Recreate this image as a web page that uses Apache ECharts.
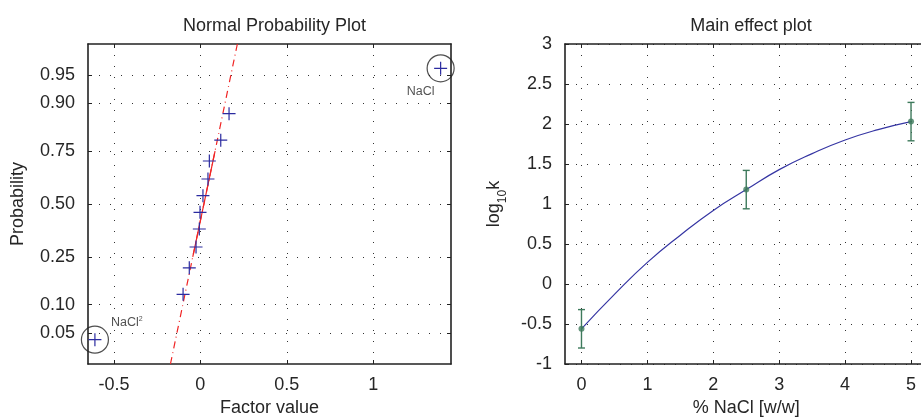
<!DOCTYPE html>
<html>
<head>
<meta charset="utf-8">
<script src="https://cdn.jsdelivr.net/npm/echarts@6/dist/echarts.min.js"></script>
<style>
html,body{margin:0;padding:0;background:#fff;}
#chart{width:921px;height:417px;}
</style>
</head>
<body>
<div id="chart"></div>
<script>
// ---------- data: normal probability plot ----------
const factorValues = [-0.61, -0.100, -0.064, -0.025, -0.006, -0.002, 0.015, 0.044, 0.052, 0.118, 0.166, 1.39];
const factorProbs  = [0.042, 0.125, 0.208, 0.292, 0.375, 0.458, 0.542, 0.625, 0.708, 0.792, 0.875, 0.958];
const flaggedIdx   = [0, 11];
const flaggedNames = ['NaCl2', 'NaCl'];
const refLineX     = [-0.173, -0.044, 0.085, 0.214];
const refLineProb  = [0.0208, 0.25, 0.75, 0.9792];
const probTicks    = [0.05, 0.10, 0.25, 0.50, 0.75, 0.90, 0.95];
const probLabels   = ['0.05', '0.10', '0.25', '0.50', '0.75', '0.90', '0.95'];
const probLimits   = [0.0208, 0.9792];
const factorTicks  = [-0.5, 0, 0.5, 1];

// ---------- data: main effect plot ----------
const effectX    = [0, 2.5, 5];
const effectMean = [-0.56, 1.18, 2.03];
const effectErr  = [0.24, 0.24, 0.24];
const curveX     = [0, 0.5, 1, 1.5, 2, 2.5, 3, 3.5, 4, 4.5, 5];
const curveY     = [-0.56, -0.13, 0.27, 0.61, 0.92, 1.18, 1.43, 1.63, 1.80, 1.93, 2.03];
const naclTicks  = [0, 1, 2, 3, 4, 5];

// inverse standard normal CDF (probability scale transform)
function norminv(p){
  const a=[-3.969683028665376e+01,2.209460984245205e+02,-2.759285104469687e+02,1.383577518672690e+02,-3.066479806614716e+01,2.506628277459239e+00];
  const b=[-5.447609879822406e+01,1.615858368580409e+02,-1.556989798598866e+02,6.680131188771972e+01,-1.328068155288572e+01];
  const c=[-7.784894002430293e-03,-3.223964580411365e-01,-2.400758277161838e+00,-2.549732539343734e+00,4.374664141464968e+00,2.938163982698783e+00];
  const d=[7.784695709041462e-03,3.224671290700398e-01,2.445134137142996e+00,3.754408661907416e+00];
  const pl=0.02425, ph=1-pl; let q,r;
  if(p<pl){q=Math.sqrt(-2*Math.log(p));return (((((c[0]*q+c[1])*q+c[2])*q+c[3])*q+c[4])*q+c[5])/((((d[0]*q+d[1])*q+d[2])*q+d[3])*q+1);}
  if(p<=ph){q=p-0.5;r=q*q;return (((((a[0]*r+a[1])*r+a[2])*r+a[3])*r+a[4])*r+a[5])*q/(((((b[0]*r+b[1])*r+b[2])*r+b[3])*r+b[4])*r+1);}
  q=Math.sqrt(-2*Math.log(1-p));return -(((((c[0]*q+c[1])*q+c[2])*q+c[3])*q+c[4])*q+c[5])/((((d[0]*q+d[1])*q+d[2])*q+d[3])*q+1);
}

const probTickZ = probTicks.map(norminv);
const zMin = norminv(probLimits[0]), zMax = norminv(probLimits[1]);
function probLabel(v){
  for (let i=0;i<probTickZ.length;i++) if (Math.abs(probTickZ[i]-v)<1e-6) return probLabels[i];
  return '';
}

const FONT = '"Liberation Sans", Arial, Helvetica, sans-serif';
const TXT = '#262626';
const AX = '#222';
const BLUE = '#2b2ba0';
const GREEN = '#3e7a5c';
const dotted = {show:true, lineStyle:{color:'#333', width:1, type:[1,10]}};

function baseAxis(extra){
  return Object.assign({
    type:'value',
    axisLine:{show:true, onZero:false, lineStyle:{color:AX, width:1.6}},
    axisTick:{show:true, inside:true, length:4, lineStyle:{color:AX}},
    axisLabel:{color:TXT, fontSize:18, fontFamily:FONT},
    nameTextStyle:{color:TXT, fontSize:18, fontFamily:FONT},
    splitLine:{show:false}
  }, extra);
}

const plusPath = 'path://M0,-1L0,1M-1,0L1,0';

const option = {
  animation:false,
  backgroundColor:'#fff',
  textStyle:{fontFamily:FONT},
  title:[
    {text:'Normal Probability Plot', left:269.5, top:12, textAlign:'center',
     textStyle:{fontSize:18, fontWeight:'normal', color:TXT, fontFamily:FONT}},
    {text:'Main effect plot', left:746, top:12, textAlign:'center',
     textStyle:{fontSize:18, fontWeight:'normal', color:TXT, fontFamily:FONT}}
  ],
  grid:[
    {left:88, top:44, width:363, height:320, outerBoundsMode:'none', containLabel:false},
    {left:565, top:44, width:362.5, height:320, outerBoundsMode:'none', containLabel:false}
  ],
  xAxis:[
    baseAxis({gridIndex:0, min:-0.65, max:1.45, position:'bottom',
      name:'Factor value', nameLocation:'middle', nameGap:34,
      axisTick:{show:true, inside:true, length:4, lineStyle:{color:AX}, customValues:factorTicks},
      axisLabel:{color:TXT, fontSize:18, fontFamily:FONT, margin:12, customValues:factorTicks},
      splitLine:dotted}),
    baseAxis({gridIndex:0, min:-0.65, max:1.45, position:'top',
      axisTick:{show:true, inside:true, length:4, lineStyle:{color:AX}, customValues:factorTicks},
      axisLabel:{show:false, customValues:factorTicks}}),
    baseAxis({gridIndex:1, min:-0.25, max:5.25, position:'bottom',
      name:'% NaCl [w/w]', nameLocation:'middle', nameGap:34,
      axisTick:{show:true, inside:true, length:4, lineStyle:{color:AX}, customValues:naclTicks},
      axisLabel:{color:TXT, fontSize:18, fontFamily:FONT, margin:12, customValues:naclTicks},
      splitLine:dotted}),
    baseAxis({gridIndex:1, min:-0.25, max:5.25, position:'top',
      axisTick:{show:true, inside:true, length:4, lineStyle:{color:AX}, customValues:naclTicks},
      axisLabel:{show:false, customValues:naclTicks}})
  ],
  yAxis:[
    baseAxis({gridIndex:0, min:zMin, max:zMax, position:'left',
      name:'Probability', nameLocation:'middle', nameGap:61,
      axisTick:{show:true, inside:true, length:4, lineStyle:{color:AX}, customValues:probTickZ},
      axisLabel:{color:TXT, fontSize:18, fontFamily:FONT, margin:13, customValues:probTickZ, formatter:probLabel},
      splitLine:dotted}),
    baseAxis({gridIndex:0, min:zMin, max:zMax, position:'right',
      axisTick:{show:true, inside:true, length:4, lineStyle:{color:AX}, customValues:probTickZ},
      axisLabel:{show:false, customValues:probTickZ}}),
    baseAxis({gridIndex:1, min:-1, max:3, interval:0.5, position:'left',
      name:'{a|log}{b|10}{a|k}', nameLocation:'middle', nameGap:56,
      nameTextStyle:{color:TXT, fontFamily:FONT, rich:{
        a:{fontSize:18, lineHeight:24, color:TXT, fontFamily:FONT, verticalAlign:'top'},
        b:{fontSize:12, lineHeight:12, color:TXT, fontFamily:FONT, verticalAlign:'bottom'}}},
      axisTick:{show:true, inside:true, length:4, lineStyle:{color:AX}},
      axisLabel:{color:TXT, fontSize:18, fontFamily:FONT, margin:13},
      splitLine:dotted}),
    baseAxis({gridIndex:1, min:-1, max:3, interval:0.5, position:'right',
      axisTick:{show:true, inside:true, length:4, lineStyle:{color:AX}},
      axisLabel:{show:false}})
  ],
  series:[
    {type:'line', xAxisIndex:0, yAxisIndex:0, symbol:'none', silent:true,
     data:refLineX.map((x,i)=>[x, norminv(refLineProb[i])]),
     lineStyle:{color:'#f02424', width:1.2, type:[7,4,1,4]}, z:3},
    {type:'line', xAxisIndex:0, yAxisIndex:0, symbol:'none', silent:true,
     data:refLineX.slice(1,3).map((x,i)=>[x, norminv(refLineProb[i+1])]),
     lineStyle:{color:'#f02424', width:1.2}, z:3},
    {type:'scatter', xAxisIndex:0, yAxisIndex:0, symbol:plusPath, symbolSize:13,
     data:factorValues.map((x,i)=>[x, norminv(factorProbs[i])]),
     itemStyle:{color:'none', borderColor:BLUE, borderWidth:1.2, opacity:1}, z:4},
    {type:'scatter', xAxisIndex:0, yAxisIndex:0, symbol:'circle', symbolSize:27,
     data:flaggedIdx.map((k,j)=>({value:[factorValues[k], norminv(factorProbs[k])], name:flaggedNames[j],
       label:{show:true, position:'inside', offset: j===0 ? [32,-17] : [-20,23],
         formatter: j===0 ? '{n|NaCl}{s|2}' : '{n|NaCl}',
         rich:{n:{fontSize:12.5, color:TXT, fontFamily:FONT, lineHeight:14}, s:{fontSize:7, color:TXT, fontFamily:FONT, lineHeight:8, verticalAlign:'top'}}}})),
     itemStyle:{color:'rgba(0,0,0,0)', borderColor:'#222', borderWidth:1.2}, z:5},
    {type:'line', xAxisIndex:2, yAxisIndex:2, symbol:'none', smooth:true,
     data:curveX.map((x,i)=>[x, curveY[i]]),
     lineStyle:{color:'#3535a3', width:1.2}, z:3},
    {type:'custom', xAxisIndex:2, yAxisIndex:2, z:4,
     data:effectX.map((x,i)=>[x, effectMean[i]-effectErr[i], effectMean[i]+effectErr[i]]),
     renderItem:function(params, api){
       const x=api.value(0);
       const lo=api.coord([x, api.value(1)]), hi=api.coord([x, api.value(2)]);
       const w=3.5, st={stroke:GREEN, lineWidth:1.4};
       return {type:'group', children:[
         {type:'line', shape:{x1:lo[0], y1:lo[1], x2:hi[0], y2:hi[1]}, style:st},
         {type:'line', shape:{x1:lo[0]-w, y1:lo[1], x2:lo[0]+w, y2:lo[1]}, style:st},
         {type:'line', shape:{x1:hi[0]-w, y1:hi[1], x2:hi[0]+w, y2:hi[1]}, style:st}
       ]};
     }},
    {type:'scatter', xAxisIndex:2, yAxisIndex:2, symbol:'circle', symbolSize:6,
     data:effectX.map((x,i)=>[x, effectMean[i]]),
     itemStyle:{color:GREEN}, z:5}
  ]
};

const chart = echarts.init(document.getElementById('chart'), null, {renderer:'canvas'});
chart.setOption(option);
</script>
</body>
</html>
